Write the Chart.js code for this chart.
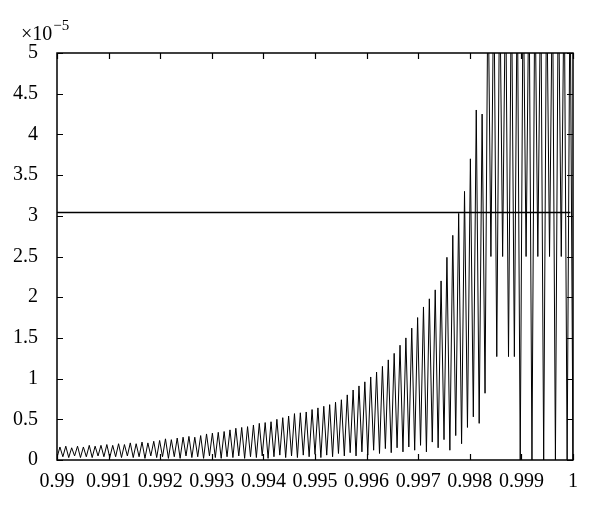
<!DOCTYPE html>
<html>
<head>
<meta charset="utf-8">
<script src="https://cdn.jsdelivr.net/npm/chart.js@4/dist/chart.umd.min.js"></script>
<style>
  body { margin: 0; background: #fff; }
  #chart { display: block; }
</style>
</head>
<body>
<canvas id="chart" width="600" height="511"></canvas>
<script>
// x range and tick labels
const xStart = 0.99;
const xEnd = 1;
const xTicks = [0.99, 0.991, 0.992, 0.993, 0.994, 0.995, 0.996, 0.997, 0.998, 0.999, 1];
const xTickLabels = ['0.99', '0.991', '0.992', '0.993', '0.994', '0.995', '0.996', '0.997', '0.998', '0.999', '1'];
const yTicks = [0, 0.5, 1, 1.5, 2, 2.5, 3, 3.5, 4, 4.5, 5];
const yTickLabels = ['0', '0.5', '1', '1.5', '2', '2.5', '3', '3.5', '4', '4.5', '5'];

const peaks = [
    0.16, 0.17, 0.15, 0.17, 0.16, 0.18, 0.17, 0.18, 0.19, 0.18,
    0.20, 0.19, 0.21, 0.20, 0.22, 0.21, 0.23, 0.24, 0.26, 0.25,
    0.27, 0.28, 0.29, 0.28, 0.30, 0.32, 0.33, 0.34, 0.35, 0.37,
    0.39, 0.40, 0.41, 0.43, 0.45, 0.46, 0.47, 0.50, 0.52, 0.54,
    0.57, 0.58, 0.59, 0.62, 0.64, 0.66, 0.68, 0.71, 0.74, 0.80,
    0.86, 0.91, 0.96, 1.02, 1.08, 1.15, 1.23, 1.31, 1.41, 1.50,
    1.62, 1.75, 1.88, 1.98, 2.09, 2.20, 2.49, 2.76, 3.03, 3.30,
    3.70, 4.30, 4.25, 6, 6, 6, 6, 6, 6, 6,
    6, 6, 6, 6, 6, 6, 6, 6
];
const troughs = [
    0.03, 0.04, 0.03, 0.05, 0.03, 0.04, 0.03, 0.05, 0.04, 0.03,
    0.04, 0.03, 0.05, 0.03, 0.04, 0.02, 0.05, 0.03, 0.04, 0.02,
    0.04, 0.02, 0.05, 0.03, 0.04, 0.02, 0.05, 0.03, 0.02, 0.04,
    0.03, 0.05, 0.02, 0.04, 0.03, 0.05, 0.02, 0.04, 0.06, 0.03,
    0.05, 0.03, 0.06, 0.04, 0.07, 0.03, 0.06, 0.04, 0.08, 0.05,
    0.09, 0.05, 0.10, 0.06, 0.12, 0.08, 0.14, 0.09, 0.15, 0.10,
    0.16, 0.12, 0.18, 0.10, 0.22, 0.15, 0.25, 0.12, 0.30, 0.20,
    0.40, 0.53, 0.45, 0.82, 2.50, 1.27, 2.50, 1.27, 1.27, 0,
    2.50, 0, 2.50, 0, 2.50, 0, 2.50, 0, 0
];
const threshold = 3.04;

const step = (xEnd - xStart) / peaks.length;
const signal = [];
for (let i = 0; i < troughs.length; i++) {
    const x = xStart + i * step;
    signal.push({x: x, y: troughs[i]});
    if (i < peaks.length) signal.push({x: x + step / 2, y: peaks[i]});
}

const FONT = 'Liberation Serif';

const framePlugin = {
    id: 'frame',
    afterDraw(chart) {
        const {ctx, chartArea: a, scales} = chart;
        ctx.save();
        ctx.strokeStyle = '#000';
        ctx.lineWidth = 1.5;
        ctx.strokeRect(a.left, a.top, a.right - a.left, a.bottom - a.top);
        ctx.lineWidth = 1.2;
        const len = 6;
        ctx.beginPath();
        scales.x.ticks.forEach((t, i) => {
            const px = Math.round(scales.x.getPixelForTick(i)) + 0.5;
            ctx.moveTo(px, a.bottom); ctx.lineTo(px, a.bottom - len);
            ctx.moveTo(px, a.top); ctx.lineTo(px, a.top + len);
        });
        scales.y.ticks.forEach((t, i) => {
            const py = Math.round(scales.y.getPixelForTick(i)) + 0.5;
            ctx.moveTo(a.left, py); ctx.lineTo(a.left + len, py);
            ctx.moveTo(a.right, py); ctx.lineTo(a.right - len, py);
        });
        ctx.stroke();
        // exponent label
        ctx.fillStyle = '#000';
        ctx.textBaseline = 'alphabetic';
        ctx.font = `20px "${FONT}"`;
        ctx.fillText('\u00d710', 21, 40);
        const w = ctx.measureText('\u00d710').width;
        ctx.font = `15px "${FONT}"`;
        ctx.fillText('\u22125', 21 + w + 1, 30);
        ctx.restore();
    }
};

new Chart(document.getElementById('chart'), {
    type: 'line',
    data: {
        datasets: [
            {
                data: signal,
                borderColor: '#000',
                borderWidth: 1,
                pointRadius: 0,
                tension: 0
            },
            {
                data: [{x: xStart, y: threshold}, {x: 0.99995, y: threshold}],
                borderColor: '#000',
                borderWidth: 1.5,
                pointRadius: 0
            }
        ]
    },
    options: {
        responsive: false,
        animation: false,
        events: [],
        layout: {padding: {left: 0, right: 27, top: 53, bottom: 0}},
        scales: {
            x: {
                type: 'linear',
                min: xStart,
                max: xEnd,
                grid: {display: false},
                border: {display: false},
                afterBuildTicks: (scale) => {
                    scale.ticks = xTicks.map(v => ({value: v}));
                },
                afterFit: (scale) => { scale.height = 51; },
                ticks: {
                    autoSkip: false,
                    maxRotation: 0,
                    padding: 2,
                    color: '#000',
                    font: {family: FONT, size: 20},
                    callback: (v, i) => xTickLabels[i]
                }
            },
            y: {
                min: 0,
                max: 5,
                grid: {display: false},
                border: {display: false},
                afterBuildTicks: (scale) => {
                    scale.ticks = yTicks.map(v => ({value: v}));
                },
                afterFit: (scale) => { scale.width = 57; },
                ticks: {
                    autoSkip: false,
                    padding: 11,
                    color: '#000',
                    font: {family: FONT, size: 20},
                    callback: (v, i) => yTickLabels[i]
                }
            }
        },
        plugins: {
            legend: {display: false},
            tooltip: {enabled: false}
        }
    },
    plugins: [framePlugin]
});
</script>
</body>
</html>
